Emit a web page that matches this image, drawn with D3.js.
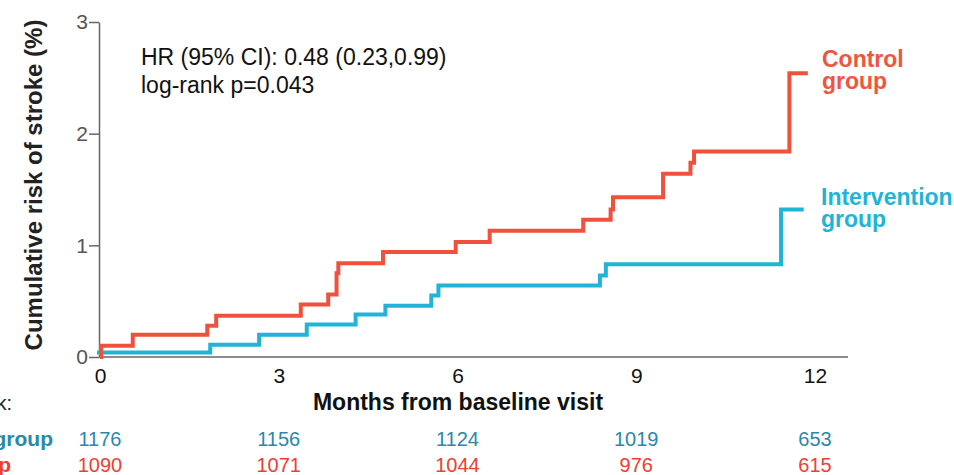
<!DOCTYPE html>
<html>
<head>
<meta charset="utf-8">
<script src="https://cdn.jsdelivr.net/npm/d3@7"></script>
<style>
  body { margin: 0; background: #fff; }
  svg text { font-family: "Liberation Sans", Arial, sans-serif; }
</style>
</head>
<body>
<svg id="chart" width="954" height="475"></svg>
<script>
// data
var monthTicks = [0, 3, 6, 9, 12];
var riskTicks = [0, 1, 2, 3];

var controlMonths = [0, 0.02, 0.55, 1.8, 1.95, 3.37, 3.83, 3.97, 4.0, 4.75, 5.97, 6.54, 8.11, 8.57, 8.61, 9.45, 9.91, 9.97, 11.57, 11.88];
var controlRisk   = [0, 0.1, 0.2, 0.28, 0.37, 0.47, 0.56, 0.75, 0.84, 0.94, 1.03, 1.13, 1.23, 1.32, 1.43, 1.64, 1.74, 1.84, 2.54, 2.54];

var interventionMonths = [-0.05, 1.85, 2.67, 3.47, 4.29, 4.79, 5.56, 5.68, 8.39, 8.49, 11.43, 11.81];
var interventionRisk   = [0.04, 0.11, 0.2, 0.29, 0.38, 0.46, 0.55, 0.64, 0.73, 0.83, 1.32, 1.32];

var interventionAtRisk = [1176, 1156, 1124, 1019, 653];
var controlAtRisk      = [1090, 1071, 1044, 976, 615];

var red = '#f0513d', blue = '#22b4d6';

var svg = d3.select('#chart');
var x = d3.scaleLinear().domain([0, 12]).range([100, 815]);
var y = d3.scaleLinear().domain([0, 3]).range([357, 22]);

// y axis
var yAxis = svg.append('g')
    .attr('transform', 'translate(99,0)')
    .call(d3.axisLeft(y).tickValues(riskTicks).tickFormat(d3.format('d'))
        .tickSize(10).tickPadding(1).tickSizeOuter(0));
yAxis.select('.domain').attr('stroke', '#666').attr('stroke-width', 1.5);
yAxis.selectAll('.tick line').attr('stroke', '#666').attr('stroke-width', 1.5);
yAxis.selectAll('.tick text').attr('font-size', 21).attr('fill', '#555')
    .attr('font-family', '"Liberation Sans", Arial, sans-serif');

// x axis (no tick marks)
var xAxis = svg.append('g')
    .attr('transform', 'translate(0,357)')
    .call(d3.axisBottom(x).tickValues(monthTicks).tickSize(0).tickPadding(11).tickSizeOuter(0));
xAxis.select('.domain').attr('stroke', '#666').attr('stroke-width', 1.5)
    .attr('d', 'M99,0H848');
xAxis.selectAll('.tick text').attr('font-size', 21).attr('fill', '#111')
    .attr('font-family', '"Liberation Sans", Arial, sans-serif');

// step curves
var line = d3.line().curve(d3.curveStepAfter)
    .x(function(d){ return x(d[0]); })
    .y(function(d){ return y(d[1]); });

svg.append('path')
    .datum(d3.zip(interventionMonths, interventionRisk))
    .attr('d', line).attr('fill', 'none')
    .attr('stroke', blue).attr('stroke-width', 4);

svg.append('path')
    .datum(d3.zip(controlMonths, controlRisk))
    .attr('d', line).attr('fill', 'none')
    .attr('stroke', red).attr('stroke-width', 4);

// group labels (two lines each)
var lab = svg.append('g').attr('font-weight', 'bold').attr('font-size', 23);
var ctl = lab.append('text').attr('y', 67).attr('fill', '#f0563f');
ctl.append('tspan').attr('x', 822).text('Control');
ctl.append('tspan').attr('x', 822).attr('dy', 22).text('group');
var itv = lab.append('text').attr('y', 205).attr('fill', '#22b4d6');
itv.append('tspan').attr('x', 821).text('Intervention');
itv.append('tspan').attr('x', 821).attr('dy', 22).text('group');

// stats
var stats = svg.append('text').attr('y', 65).attr('font-size', 23).attr('fill', '#111');
stats.append('tspan').attr('x', 141).text('HR (95% CI): 0.48 (0.23,0.99)');
stats.append('tspan').attr('x', 141).attr('dy', 28).text('log-rank p=0.043');

// axis titles
svg.append('text')
    .attr('transform', 'translate(42,185) rotate(-90)')
    .attr('text-anchor', 'middle').attr('font-size', 24).attr('font-weight', 'bold').attr('fill', '#222')
    .text('Cumulative risk of stroke (%)');
svg.append('text')
    .attr('x', 458).attr('y', 410)
    .attr('text-anchor', 'middle').attr('font-size', 23).attr('font-weight', 'bold').attr('fill', '#111')
    .text('Months from baseline visit');

// number at risk table (left part is cut off in the original)
svg.append('text').attr('x', 12).attr('y', 410).attr('text-anchor', 'end')
    .attr('font-size', 20).attr('fill', '#222').text('Number at risk:');
svg.append('text').attr('x', 53).attr('y', 446).attr('text-anchor', 'end')
    .attr('font-size', 21).attr('font-weight', 'bold').attr('fill', '#2a88aa').text('Intervention group');
svg.append('text').attr('x', 11).attr('y', 472).attr('text-anchor', 'end')
    .attr('font-size', 21).attr('font-weight', 'bold').attr('fill', '#ee4030').text('Control group');

svg.append('g').selectAll('text').data(interventionAtRisk).join('text')
    .attr('x', function(d, i){ return x(monthTicks[i]); })
    .attr('y', 446).attr('text-anchor', 'middle').attr('font-size', 20).attr('fill', '#2a88aa')
    .text(function(d){ return d; });
svg.append('g').selectAll('text').data(controlAtRisk).join('text')
    .attr('x', function(d, i){ return x(monthTicks[i]); })
    .attr('y', 472).attr('text-anchor', 'middle').attr('font-size', 20).attr('fill', '#ee4030')
    .text(function(d){ return d; });
</script>
</body>
</html>
